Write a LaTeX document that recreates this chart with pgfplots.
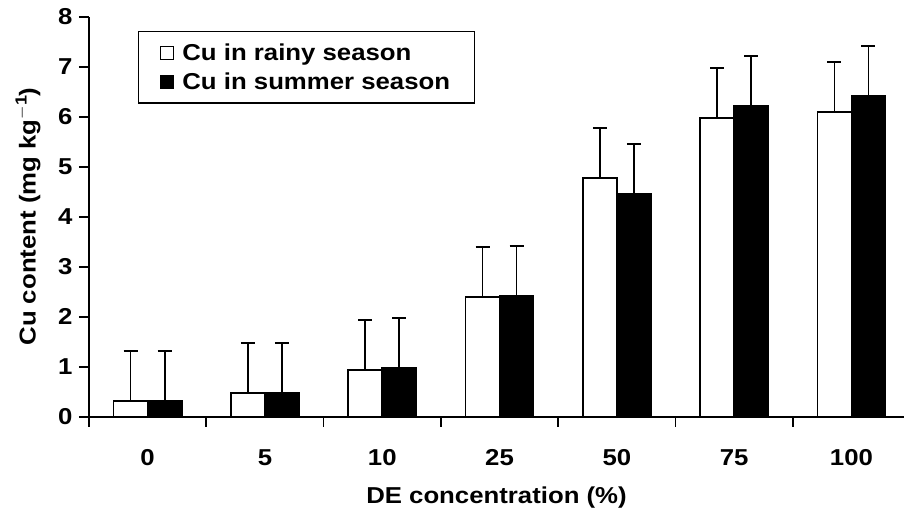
\documentclass[border=0pt]{standalone}
\usepackage{fontspec}
\setmainfont{Liberation Sans}[FakeStretch=1.12]
\usepackage{pgfplots}
\pgfplotsset{compat=1.18}
\pgfplotstableread{
x rain rainerr summer summererr
0 0.32 1.0 0.32 1.0
1 0.47 1.0 0.47 1.0
2 0.93 1.0 0.97 1.0
3 2.40 1.0 2.41 1.0
4 4.77 1.0 4.45 1.0
5 5.97 1.0 6.21 1.0
6 6.09 1.0 6.41 1.0
}\datatable
\pgfplotsset{
  myerr/.style={
    error bars/y dir=plus, error bars/y explicit,
    error bars/error bar style={line width=1.7pt, black, solid},
    error bars/error mark options={rotate=90, mark size=7pt, line width=1.7pt, black},
  }
}
\begin{document}
\begin{tikzpicture}[x=1pt,y=1pt]
\useasboundingbox (-89,-102.3) rectangle (815,416.7);
\begin{axis}[
  at={(0,0)}, anchor=south west,
  scale only axis, width=815pt, height=400pt,
  xmin=-0.5, xmax=6.448, ymin=0, ymax=8,
  axis lines*=left,
  axis line style={line width=1.7pt},
  ybar=0pt, bar width=34pt,
  font=\fontsize{23}{27}\selectfont\bfseries,
  /pgf/number format/assume math mode=true,
  tick align=outside,
  major tick length=10pt, minor tick length=10pt,
  tick style={line width=1.7pt, black},
  ytick={0,1,...,8},
  xtick={0,1,...,6},
  xticklabels={0,5,10,25,50,75,100},
  minor xtick={-0.5,0.5,...,5.5},
  x tick style={draw=none},
  minor x tick style={draw=black, line width=1.7pt},
  xticklabel style={anchor=north, yshift=-19pt},
  yticklabel style={xshift=-3pt},
  ylabel={Cu content (mg kg$^{\mathbf{-1}}$)},
  xlabel={DE concentration (\%)},
  ylabel style={at={(axis description cs:-0.0748,0.5)}, anchor=center},
  xlabel style={at={(axis description cs:0.5,0)}, yshift=-81pt, anchor=center},
  legend style={at={(0.060,0.964)}, anchor=north west, draw=black, line width=1.2pt,
    font=\fontsize{23}{27}\selectfont\bfseries, inner xsep=22pt, inner ysep=10pt,
    row sep=7pt, /tikz/every odd column/.append style={column sep=6pt}},
  legend cell align=left,
]
\addplot[draw=black, fill=white, line width=1.7pt, myerr,
  legend image code/.code={\draw[black, line width=0.9pt, fill=white] (0pt,-6.5pt) rectangle (13pt,6.5pt);}]
  table[x=x, y=rain, y error=rainerr] {\datatable};
\addplot[draw=black, fill=black, line width=1.7pt, myerr,
  legend image code/.code={\draw[black, line width=0.9pt, fill=black] (0pt,-6.5pt) rectangle (13pt,6.5pt);}]
  table[x=x, y=summer, y error=summererr] {\datatable};
\legend{Cu in rainy season, Cu in summer season}
\end{axis}
\end{tikzpicture}
\end{document}
